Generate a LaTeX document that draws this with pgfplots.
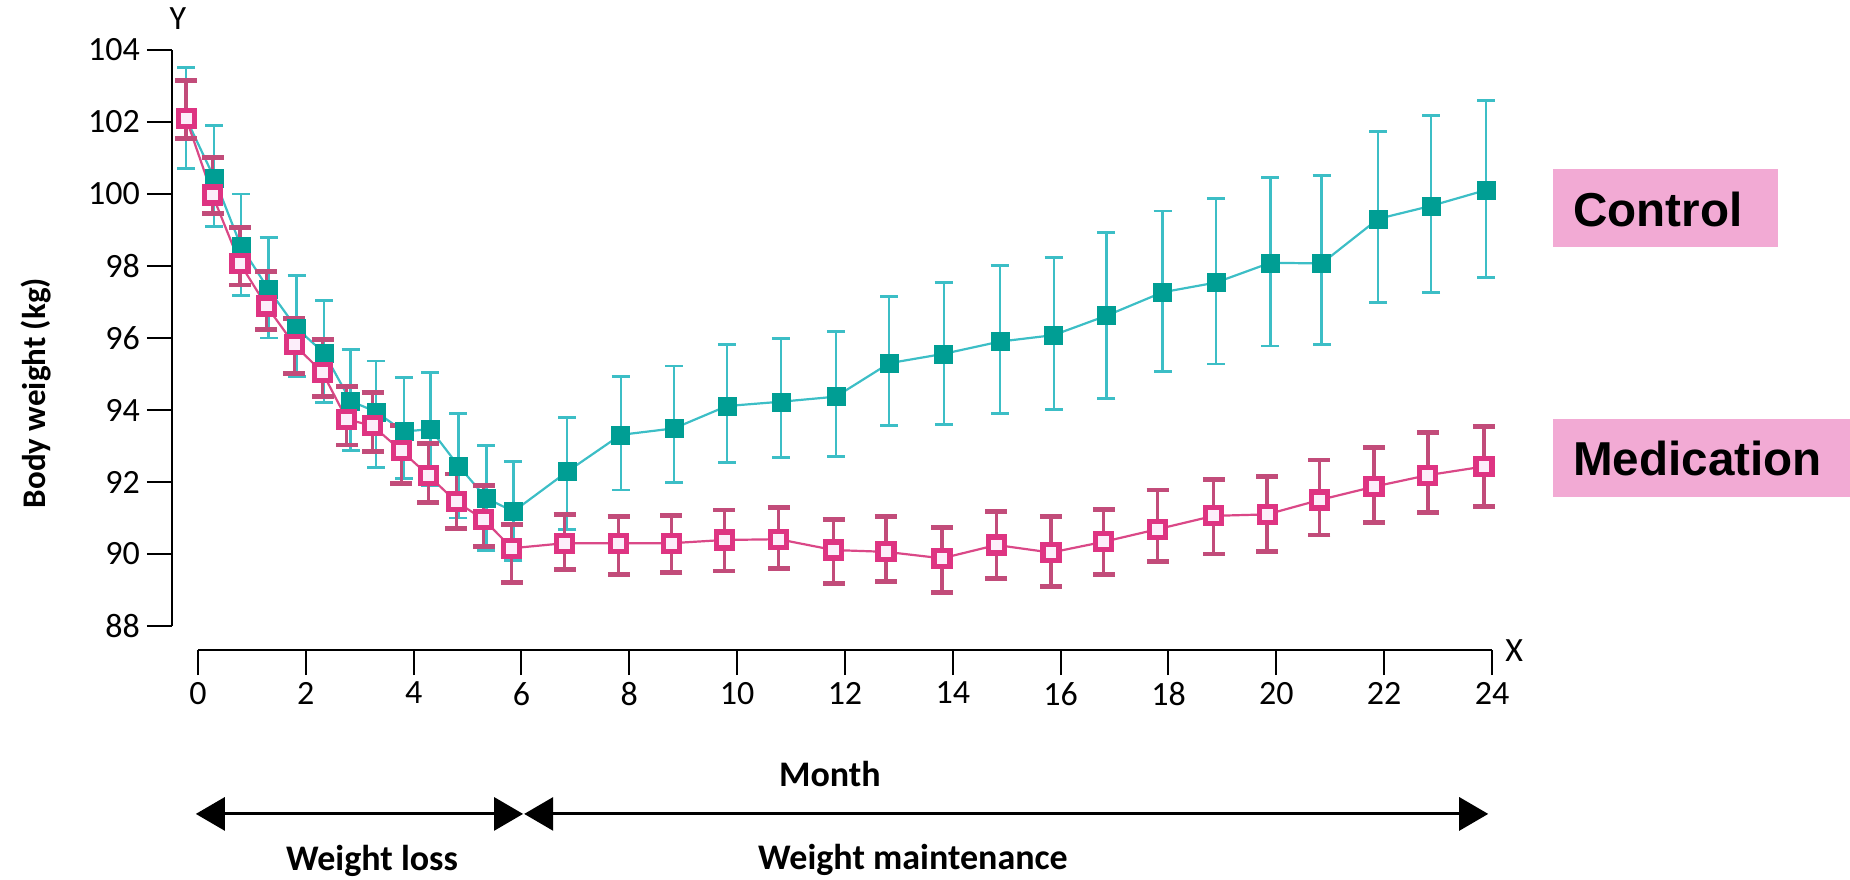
\documentclass[border=0pt]{standalone}
\usepackage{fontspec}
\setmainfont{Carlito}
\newfontfamily\lib{Liberation Sans}
\usepackage{pgfplots}
\usepackage{pgfplotstable}
\pgfplotsset{compat=1.18}
\usetikzlibrary{arrows.meta}
\definecolor{tealM}{RGB}{0,158,148}
\definecolor{tealL}{RGB}{60,190,198}
\definecolor{pinkM}{RGB}{222,52,130}
\definecolor{pinkE}{RGB}{194,76,122}
\definecolor{pinkL}{RGB}{218,72,135}
\definecolor{pinkF}{RGB}{252,238,250}
\definecolor{boxpink}{RGB}{242,170,212}

\pgfplotstableread{
x y ep em
-0.22 102.10 1.42 1.39
0.30 100.45 1.45 1.36
0.80 98.54 1.46 1.36
1.31 97.35 1.45 1.35
1.83 96.27 1.46 1.33
2.34 95.58 1.46 1.38
2.83 94.25 1.44 1.38
3.30 93.95 1.41 1.54
3.82 93.40 1.50 1.30
4.31 93.47 1.57 1.57
4.83 92.45 1.46 1.45
5.35 91.55 1.46 1.45
5.85 91.18 1.39 1.35
6.85 92.29 1.51 1.62
7.84 93.31 1.62 1.53
8.83 93.49 1.73 1.51
9.81 94.11 1.70 1.57
10.81 94.23 1.76 1.55
11.83 94.37 1.82 1.67
12.82 95.30 1.85 1.74
13.83 95.56 1.98 1.96
14.87 95.90 2.11 1.99
15.87 96.08 2.15 2.06
16.85 96.62 2.32 2.29
17.89 97.27 2.26 2.21
18.88 97.54 2.34 2.26
19.89 98.09 2.37 2.31
20.84 98.07 2.44 2.26
21.89 99.31 2.42 2.32
22.87 99.67 2.52 2.40
23.89 100.11 2.49 2.42
}\control

\pgfplotstableread{
x y ep em
-0.22 102.10 1.05 0.55
0.27 99.97 1.05 0.51
0.78 98.07 1.00 0.60
1.27 96.89 0.95 0.65
1.79 95.81 0.74 0.79
2.31 95.04 0.92 0.67
2.76 93.74 0.91 0.71
3.24 93.56 0.93 0.72
3.77 92.87 0.71 0.91
4.27 92.19 0.89 0.75
4.79 91.45 0.77 0.74
5.30 90.96 0.94 0.76
5.82 90.16 0.65 0.95
6.80 90.30 0.80 0.74
7.80 90.30 0.74 0.86
8.78 90.30 0.76 0.82
9.76 90.39 0.83 0.86
10.77 90.41 0.89 0.81
11.79 90.11 0.85 0.92
12.76 90.06 0.98 0.83
13.80 89.88 0.86 0.95
14.81 90.25 0.93 0.93
15.82 90.04 1.00 0.95
16.80 90.34 0.90 0.92
17.80 90.69 1.09 0.90
18.84 91.06 1.00 1.06
19.83 91.10 1.05 1.04
20.80 91.50 1.11 0.97
21.81 91.87 1.08 1.00
22.81 92.19 1.18 1.03
23.85 92.43 1.11 1.12
}\medication

\begin{document}
\begin{tikzpicture}
\begin{axis}[
  at={(0,0)}, anchor=south west,
  scale only axis, width=647pt, height=288pt,
  xmin=0, xmax=24, ymin=88, ymax=104,
  axis lines*=left, separate axis lines,
  axis x line shift=12pt, axis y line shift=13pt,
  axis line style={line width=1pt, black},
  xtick={0,2,...,24}, ytick={88,90,...,104},
  tick align=outside, major tick length=12.5pt,
  tick style={line width=1pt, black},
  tick label style={font=\fontsize{17}{17}\selectfont},
  /pgf/number format/assume math mode=true,
  clip=false,
]
\addplot[tealL, line width=1.1pt, mark=square*, mark size=4.5pt,
  mark options={fill=tealM, draw=tealM, line width=0.2pt},
  error bars/.cd, y dir=both, y explicit,
  error bar style={tealL, line width=1.15pt},
  error mark options={rotate=90, mark size=4.5pt, line width=1.4pt, tealL}]
  table[x=x, y=y, y error plus=ep, y error minus=em]{\control};

\addplot[pinkL, line width=1.1pt, mark=square*, mark size=4.0pt,
  mark options={fill=pinkF, draw=pinkM, line width=2.6pt},
  error bars/.cd, y dir=both, y explicit,
  error bar style={pinkE, line width=1.7pt},
  error mark options={rotate=90, mark size=5.5pt, line width=2.4pt, pinkE}]
  table[x=x, y=y, y error plus=ep, y error minus=em]{\medication};

% axis captions
\node[font=\fontsize{17}{17}\selectfont] at (axis cs:-0.371,104.86) {Y};
\node[font=\fontsize{17}{17}\selectfont] at (axis cs:24.41,87.33) {X};
\node[font=\bfseries\fontsize{16.5}{16.5}\selectfont, rotate=90] at (axis cs:-3.012,94.47) {Body weight (kg)};
\node[font=\bfseries\fontsize{18}{18}\selectfont, anchor=base] at (axis cs:11.72,83.53) {Month};

% phase arrows
\draw[line width=1.5pt, {Triangle[length=14.5pt,width=16.5pt]}-{Triangle[length=14.5pt,width=16.5pt]}]
  (axis cs:-0.04,82.78) -- (axis cs:6.03,82.78);
\draw[line width=1.5pt, {Triangle[length=14.5pt,width=16.5pt]}-{Triangle[length=14.5pt,width=16.5pt]}]
  (axis cs:6.05,82.78) -- (axis cs:23.93,82.78);
\node[font=\bfseries\fontsize{18}{18}\selectfont, anchor=base] at (axis cs:3.227,81.22) {Weight loss};
\node[font=\bfseries\fontsize{18}{18}\selectfont, anchor=base] at (axis cs:13.26,81.25) {Weight maintenance};

% series labels
\fill[boxpink] (axis cs:25.13,100.69) rectangle (axis cs:29.30,98.53);
\node[font=\lib\bfseries\fontsize{23.8}{23.8}\selectfont, anchor=base west, inner sep=0pt] at (axis cs:25.50,99.09) {Control};
\fill[boxpink] (axis cs:25.13,93.74) rectangle (axis cs:30.9,91.59);
\node[font=\lib\bfseries\fontsize{23.8}{23.8}\selectfont, anchor=base west, inner sep=0pt] at (axis cs:25.50,92.18) {Medication};

\coordinate (bbll) at (axis cs:-3.672,80.972);
\coordinate (bbur) at (axis cs:30.64,105.389);
\end{axis}
\pgfresetboundingbox
\useasboundingbox (bbll) rectangle (bbur);
\end{tikzpicture}
\end{document}
